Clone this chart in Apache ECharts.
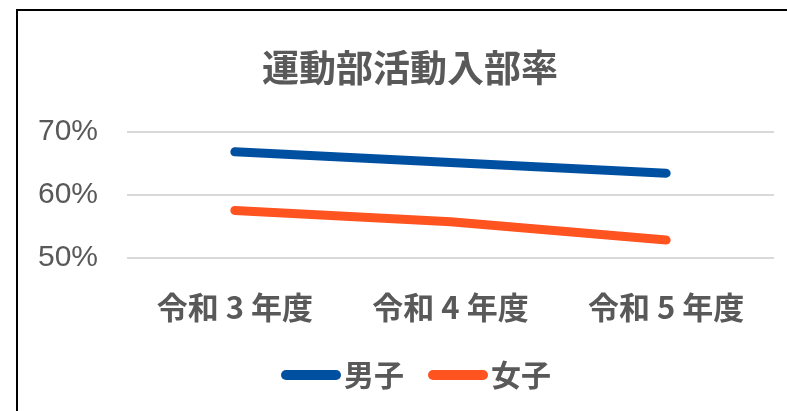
<!DOCTYPE html>
<html>
<head>
<meta charset="utf-8">
<script src="https://cdn.jsdelivr.net/npm/echarts@6/dist/echarts.min.js"></script>
<style>
  html, body { margin: 0; padding: 0; background: #fff; }
  #chart { width: 787px; height: 411px; }
</style>
</head>
<body>
<div id="chart"></div>
<script>
// 年度
const categories = ['令和 3 年度', '令和 4 年度', '令和 5 年度']
// 入部率（%）
const boysData = [66.8, 65.1, 63.4]
const girlsData = [57.5, 55.7, 52.8]
// 縦軸の目盛り
const yTicks = [50, 60, 70]

const textColor = '#595959'
const cjkFont = '"Noto Sans CJK JP", sans-serif'
const colorArr = ['#0050A2', '#FF5320']

let chart = echarts.init(document.getElementById('chart'))

let option = {
    color: colorArr,
    animation: false,
    title: {
        text: '運動部活動入部率',
        left: 257,
        top: 44,
        textStyle: {
            fontFamily: cjkFont,
            fontSize: 37,
            fontWeight: 'bold',
            color: textColor
        }
    },
    // 外枠
    graphic: [{
        type: 'rect',
        shape: { x: 17, y: 10, width: 800, height: 500 },
        style: { fill: 'none', stroke: '#000', lineWidth: 2 }
    }],
    legend: {
        bottom: 16,
        left: 276,
        itemWidth: 60,
        itemHeight: 11,
        itemGap: 24,
        icon: 'path://M5,0 L55,0 A5,5 0 0 1 55,10 L5,10 A5,5 0 0 1 5,0 Z',
        textStyle: {
            fontFamily: cjkFont,
            fontSize: 30,
            fontWeight: 'bold',
            color: textColor,
            padding: [0, 0, 0, -2]
        },
        data: ['男子', '女子']
    },
    grid: {
        left: 127,
        right: 13,
        top: 131.7,
        bottom: 153.3
    },
    xAxis: {
        type: 'category',
        data: categories,
        boundaryGap: true,
        axisTick: { show: false },
        axisLine: { show: false },
        axisLabel: {
            margin: 34,
            fontFamily: cjkFont,
            fontSize: 31,
            fontWeight: 'bold',
            color: textColor
        }
    },
    yAxis: {
        type: 'value',
        min: yTicks[0],
        max: yTicks[yTicks.length - 1],
        interval: 10,
        axisTick: { show: false },
        axisLine: { show: false },
        splitLine: {
            show: true,
            lineStyle: { color: '#D9D9D9', width: 2 }
        },
        axisLabel: {
            margin: 29,
            fontFamily: '"Liberation Sans", Arial, sans-serif',
            fontSize: 30,
            color: textColor,
            formatter: v => v + '%'
        }
    },
    series: [{
        name: '男子',
        type: 'line',
        data: boysData,
        showSymbol: false,
        symbol: 'none',
        lineStyle: { width: 9, cap: 'round', join: 'round', color: colorArr[0] }
    }, {
        name: '女子',
        type: 'line',
        data: girlsData,
        showSymbol: false,
        symbol: 'none',
        lineStyle: { width: 9, cap: 'round', join: 'round', color: colorArr[1] }
    }]
}

chart.setOption(option)
</script>
</body>
</html>
